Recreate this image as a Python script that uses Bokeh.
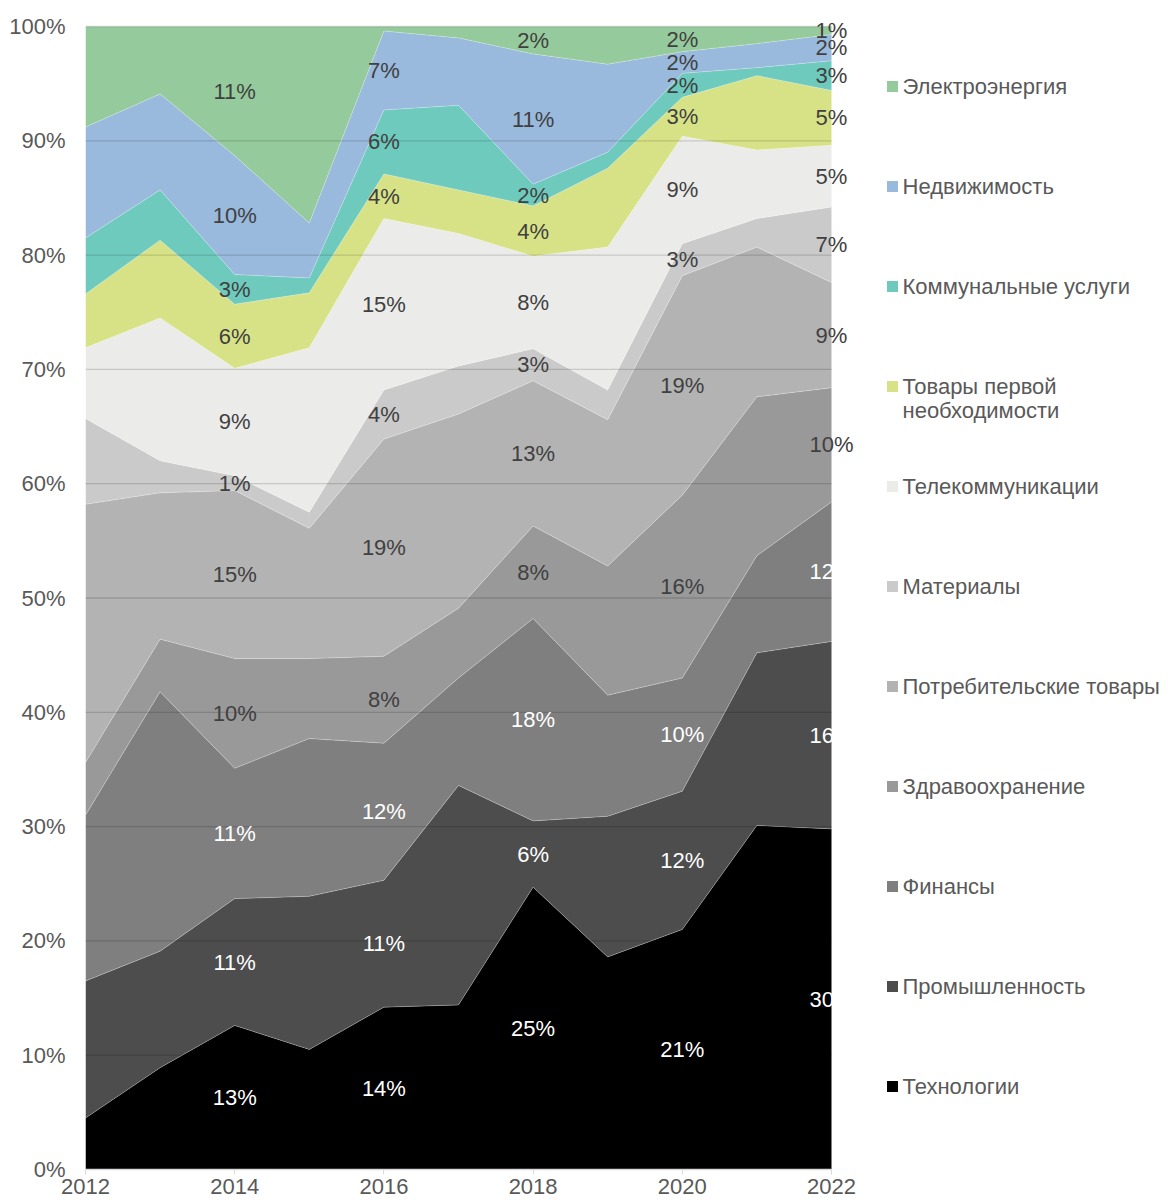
from bokeh.plotting import figure
from bokeh.models import (ColumnDataSource, Range1d, FixedTicker,
                          PrintfTickFormatter, LabelSet)
from bokeh.layouts import row
from bokeh.embed import file_html
from bokeh.resources import INLINE
from bokeh.core.properties import value

# ---------------- data ----------------
years = [2012, 2013, 2014, 2015, 2016, 2017, 2018, 2019, 2020, 2021, 2022]
label_years = [2014, 2016, 2018, 2020, 2022]
year_ticks = [2012, 2014, 2016, 2018, 2020, 2022]
pct_ticks = [0, 10, 20, 30, 40, 50, 60, 70, 80, 90, 100]
grid_ticks = [10, 20, 30, 40, 50, 60, 70, 80, 90, 100]

# shares, % (bottom of the stack first)
tech        = [4.5, 8.9, 12.6, 10.5, 14.2, 14.4, 24.7, 18.6, 21.0, 30.1, 29.8]
industry    = [12.0, 10.2, 11.1, 13.4, 11.1, 19.2, 5.8, 12.3, 12.1, 15.1, 16.4]
finance     = [14.5, 22.7, 11.4, 13.8, 12.0, 9.4, 17.7, 10.6, 9.9, 8.5, 12.2]
health      = [4.6, 4.6, 9.6, 7.0, 7.6, 6.1, 8.1, 11.3, 16.0, 13.9, 10.0]
consumer    = [22.6, 12.8, 14.7, 11.4, 19.0, 17.0, 12.7, 12.8, 19.2, 13.1, 9.2]
materials   = [7.5, 2.8, 1.3, 1.4, 4.3, 4.2, 2.8, 2.6, 2.8, 2.5, 6.6]
telecom     = [6.2, 12.5, 9.4, 14.4, 15.0, 11.6, 8.1, 12.5, 9.4, 6.0, 5.4]
staples     = [4.7, 6.8, 5.6, 4.8, 3.9, 3.8, 4.4, 6.9, 3.4, 6.5, 4.8]
utilities   = [4.9, 4.4, 2.6, 1.3, 5.6, 7.4, 1.9, 1.4, 2.1, 0.7, 2.6]
real_estate = [9.7, 8.4, 10.4, 4.8, 6.9, 5.9, 11.4, 7.7, 1.9, 2.1, 2.3]
power       = [8.8, 5.9, 11.3, 17.2, 0.4, 1.0, 2.4, 3.3, 2.2, 1.5, 0.7]

series_keys = ["tech", "industry", "finance", "health", "consumer", "materials",
               "telecom", "staples", "utilities", "real_estate", "power"]
series_vals = [tech, industry, finance, health, consumer, materials,
               telecom, staples, utilities, real_estate, power]
series_names = ["Технологии", "Промышленность", "Финансы", "Здравоохранение",
                "Потребительские товары", "Материалы", "Телекоммуникации",
                "Товары первой необходимости", "Коммунальные услуги",
                "Недвижимость", "Электроэнергия"]
series_colors = ["#000000", "#4d4d4d", "#7f7f7f", "#999999", "#b3b3b3", "#cacaca",
                 "#ebebea", "#d7e286", "#6fcabe", "#99b9dd", "#95cb9c"]
label_colors = ["#ffffff", "#ffffff", "#ffffff", "#404040", "#404040", "#404040",
                "#404040", "#404040", "#404040", "#404040", "#404040"]

FONT = "Liberation Sans"
TXT = "#595959"
FS = "22px"

# normalise to 100 %
n = len(years)
totals = [sum(s[i] for s in series_vals) for i in range(n)]
norm = [[s[i] * 100.0 / totals[i] for i in range(n)] for s in series_vals]

data = {"year": years}
for k, s in zip(series_keys, norm):
    data[k] = s
source = ColumnDataSource(data)

# ---------------- layout geometry (screen px) ----------------
FRAME_L, FRAME_R, LAST_X = 85, 868, 831          # frame edges / position of 2022
TOP_100, BOTTOM_0, FRAME_T = 26, 1169, 12        # 100 % line, 0 % line, frame top
px_per_year = (LAST_X - FRAME_L) / (years[-1] - years[0])
x_end = years[-1] + (FRAME_R - LAST_X) / px_per_year
px_per_pct = (BOTTOM_0 - TOP_100) / 100.0
y_end = 100 + (TOP_100 - FRAME_T) / px_per_pct

# ---------------- main chart ----------------
p = figure(width=FRAME_R, height=1204, x_range=Range1d(years[0], x_end),
           y_range=Range1d(0, y_end),
           output_backend="svg", toolbar_location=None,
           min_border_left=FRAME_L, min_border_right=0, min_border_top=FRAME_T,
           min_border_bottom=1204 - BOTTOM_0)
p.outline_line_color = None
p.background_fill_color = "white"
p.border_fill_color = "white"
p.xgrid.visible = False
p.ygrid.visible = False

p.varea_stack(stackers=series_keys, x="year", color=series_colors, source=source)
p.vline_stack(stackers=series_keys, x="year", color="white", alpha=0.35,
              line_width=0.8, source=source)

# horizontal gridlines, drawn over the areas, limited to the data span
p.segment(x0=[years[0]] * len(grid_ticks), x1=[years[-1]] * len(grid_ticks),
          y0=grid_ticks, y1=grid_ticks, line_color="black", line_alpha=0.15,
          line_width=1.3)

# y axis
p.yaxis.ticker = FixedTicker(ticks=pct_ticks)
p.yaxis.formatter = PrintfTickFormatter(format="%d%%")
p.yaxis.axis_line_color = None
p.yaxis.major_tick_line_color = None
p.yaxis.minor_tick_line_color = None
p.yaxis.major_tick_out = 0
p.yaxis.major_tick_in = 0
p.yaxis.major_label_standoff = 20
p.yaxis.major_label_text_font = FONT
p.yaxis.major_label_text_font_size = FS
p.yaxis.major_label_text_color = TXT

# x axis
p.xaxis.ticker = FixedTicker(ticks=year_ticks)
p.xaxis.bounds = (years[0], years[-1])
p.xaxis.axis_line_color = "#d9d9d9"
p.xaxis.axis_line_width = 1.3
p.xaxis.major_tick_line_color = "#d9d9d9"
p.xaxis.minor_tick_line_color = None
p.xaxis.major_tick_out = 5
p.xaxis.major_tick_in = 0
p.xaxis.major_label_standoff = 4
p.xaxis.major_label_text_font = FONT
p.xaxis.major_label_text_font_size = FS
p.xaxis.major_label_text_color = TXT

# data labels (centre of each band, every other year)
lx, ly, lt, lc = [], [], [], []
for yr in label_years:
    i = years.index(yr)
    base = 0.0
    for j, s in enumerate(norm):
        v = s[i]
        r = int(series_vals[j][i] + 0.5)
        if r >= 1:
            lx.append(yr)
            ly.append(base + v / 2.0)
            lt.append(f"{r}%")
            lc.append(label_colors[j])
        base += v
lab_src = ColumnDataSource(dict(x=lx, y=ly, t=lt, c=lc))
p.add_layout(LabelSet(x="x", y="y", text="t", source=lab_src, text_color="c",
                      text_align="center", text_baseline="middle",
                      text_font=value(FONT), text_font_size=FS))

# ---------------- legend panel ----------------
# data coordinates of this panel equal screen pixels
leg = figure(width=1168 - FRAME_R, height=1204, x_range=Range1d(FRAME_R, 1168),
             y_range=Range1d(BOTTOM_0, FRAME_T),
             output_backend="svg", toolbar_location=None,
             x_axis_type=None, y_axis_type=None,
             min_border_left=0, min_border_right=0, min_border_top=FRAME_T,
             min_border_bottom=1204 - BOTTOM_0)
leg.outline_line_color = None
leg.grid.visible = False
leg.background_fill_color = "white"
leg.border_fill_color = "white"


def wrap(name, width=22):
    words, lines, cur = name.split(), [], ""
    for w in words:
        if cur and len(cur) + 1 + len(w) > width:
            lines.append(cur)
            cur = w
        else:
            cur = (cur + " " + w).strip()
    lines.append(cur)
    return lines


mx, my, mc, tx, ty, tt = [], [], [], [], [], []
order = list(range(len(series_names)))[::-1]
for k, j in enumerate(order):
    yc = 86 + 100.0 * k
    mx.append(892)
    my.append(yc)
    mc.append(series_colors[j])
    for m, line in enumerate(wrap(series_names[j])):
        tx.append(902)
        ty.append(yc + 24 * m)
        tt.append(line)

leg.rect(x=mx, y=my, width=11, height=11, fill_color=mc, line_color=None)
leg.text(x=tx, y=ty, text=tt, text_font=value(FONT), text_font_size=FS,
         text_color=TXT, text_baseline="middle", text_align="left")

layout = row(p, leg, spacing=0)
open("out.html", "w").write(file_html(layout, INLINE))
